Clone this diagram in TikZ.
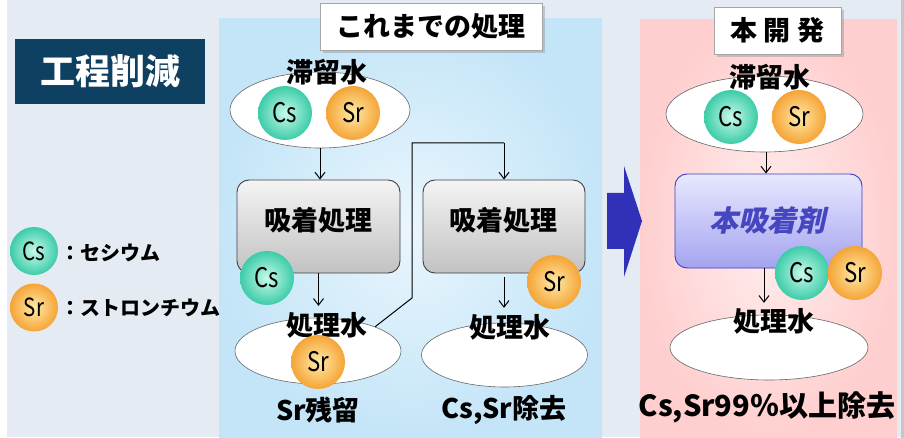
\documentclass[tikz,border=0pt]{standalone}
\usepackage{fontspec}
\setmainfont{Noto Sans CJK JP}
\newfontfamily\jpslant{Noto Sans CJK JP}[FakeSlant=0.22]
\newfontfamily\ionfont{Noto Sans CJK JP}[FakeStretch=0.82]
\usetikzlibrary{arrows.meta,shapes.geometric,shadows}
\definecolor{bg}{HTML}{E4EBF3}
\definecolor{titlebg}{HTML}{0E4062}
\definecolor{bluein}{HTML}{EAF6FD}
\definecolor{blueout}{HTML}{C4E5F8}
\definecolor{pinkin}{HTML}{FFEEEE}
\definecolor{pinkout}{HTML}{FFCFCF}
\definecolor{csin}{HTML}{C8FAEA}
\definecolor{csout}{HTML}{3CCCA8}
\definecolor{srin}{HTML}{FFEAA8}
\definecolor{srout}{HTML}{F5A436}
\definecolor{bigarrow}{HTML}{3030B8}
\definecolor{boxtop}{HTML}{F4F4F4}
\definecolor{boxbot}{HTML}{C2C2C2}
\definecolor{purtop}{HTML}{E8E8FF}
\definecolor{purbot}{HTML}{A4A4F0}
\definecolor{purline}{HTML}{3C3CC8}
\definecolor{purtext}{HTML}{4646C0}
\tikzset{
  lbl/.style={inner sep=0pt, font=\fontsize{27}{29}\selectfont\bfseries},
  leg/.style={inner sep=0pt, anchor=west, font=\fontsize{20}{22}\selectfont\bfseries},
  wellipse/.style={ellipse, draw=gray!80!black, line width=0.6pt, fill=white, inner sep=0pt},
  ion/.style={circle, inner sep=0pt, minimum size=54pt, shading=radial, font=\fontsize{27}{27}\selectfont\ionfont},
  csion/.style={ion, inner color=csin, outer color=csout},
  srion/.style={ion, inner color=srin, outer color=srout},
  graybox/.style={rectangle, rounded corners=12pt, draw=black!75, line width=0.9pt, top color=boxtop, bottom color=boxbot, inner sep=0pt},
  purbox/.style={rectangle, rounded corners=12pt, draw=purline, line width=0.9pt, top color=purtop, bottom color=purbot, inner sep=0pt},
  headbox/.style={rectangle, draw=gray!70, line width=0.8pt, fill=white, inner sep=0pt, drop shadow={opacity=0.35, shadow xshift=3pt, shadow yshift=-3pt}, font=\fontsize{27}{29}\selectfont\bfseries},
  arr/.style={line width=1pt, -{Straight Barb[length=6.5pt,width=10pt]}},
  conn/.style={line width=1pt}
}
\begin{document}
\begin{tikzpicture}[x=1pt,y=-1pt]
\useasboundingbox (0,0) rectangle (904,438);
% background
\fill[white] (0,0) rectangle (904,438);
\fill[bg] (7,0) rectangle (901,437);
\fill[gray!45] (901,0) rectangle (904,438);
% panels
\shade[inner color=bluein, outer color=blueout] (219,19) rectangle (602,437);
\shade[inner color=pinkin, outer color=pinkout] (640,20) rectangle (897,437);
% title
\node[rectangle, fill=titlebg, minimum width=190pt, minimum height=65pt, inner sep=0pt, text=white, font=\fontsize{35}{37}\selectfont\bfseries] (title) at (110,71.5) {工程削減};
% header boxes
\node[headbox, minimum width=222pt, minimum height=47pt] (h1) at (431,26.5) {これまでの処理};
\node[headbox, minimum width=127pt, minimum height=47pt] (h2) at (777.5,30.5) {本 開 発};
% big arrow
\fill[bigarrow] (607,193) -- (624,193) -- (624,166) -- (642,221) -- (624,277) -- (624,249) -- (607,249) -- cycle;
% legend
\node[csion, minimum size=48pt, font=\fontsize{25}{25}\selectfont\ionfont] (lcs) at (34,251) {Cs};
\node[srion, minimum size=48pt, font=\fontsize{25}{25}\selectfont\ionfont] (lsr) at (34,307.5) {Sr};
\node[leg] (lcst) at (60,253) {：セシウム};
\node[leg] (lsrt) at (60,308) {：ストロンチウム};
% ---------- left flow ----------
\node[wellipse, minimum width=180pt, minimum height=76pt] (e1) at (320,110) {};
\node[lbl] (t1) at (327,72) {滞留水};
\node[csion] (c1) at (285,113) {Cs};
\node[srion] (s1) at (353,113) {Sr};
\node[graybox, minimum width=163pt, minimum height=93pt] (b1) at (318.5,226.5) {};
\node[lbl] (bt1) at (318,220) {吸着処理};
\node[csion] (c2) at (267,278) {Cs};
\node[wellipse, minimum width=166pt, minimum height=66pt] (e2) at (318,351) {};
\node[lbl] (w2) at (327,325) {処理水};
\node[srion] (s2) at (318,362) {Sr};
\node[lbl] (r2) at (318,410) {Sr残留};
\draw[arr] (e1.south) -- (e1.south |- b1.north);
\draw[arr] (b1.south) -- ([yshift=6pt]b1.south |- w2.north);
% ---------- middle flow ----------
\node[graybox, minimum width=162pt, minimum height=93pt] (b2) at (504,226.5) {};
\node[lbl] (bt2) at (503,220) {吸着処理};
\node[wellipse, minimum width=166pt, minimum height=64pt] (e3) at (504.5,355) {};
\node[lbl] (w3) at (510,327) {処理水};
\node[lbl] (r3) at (504,410) {Cs,Sr除去};
\coordinate (k1) at (412,298);
\coordinate (k2) at (412,143);
\draw[conn] (e2.23) -- (k1) -- (k2) -- (k2 -| b2.north);
\draw[arr] (k2 -| b2.north) -- (b2.north);
\draw[arr] ([yshift=-4pt]b2.south) -- ([yshift=6pt]b2.south |- w3.north);
\node[srion] (s3) at (554,282) {Sr};
% ---------- right flow ----------
\node[wellipse, minimum width=197pt, minimum height=76pt] (e4) at (764.5,114) {};
\node[lbl] (t4) at (770,77) {滞留水};
\node[csion] (c4) at (731,117) {Cs};
\node[srion] (s4) at (799,117) {Sr};
\node[purbox, minimum width=187pt, minimum height=94pt] (b3) at (768.5,221) {};
\node[inner sep=0pt, text=purtext, font=\fontsize{29}{31}\selectfont\jpslant\bfseries] (bt3) at (767,220) {本吸着剤};
\node[wellipse, minimum width=198pt, minimum height=65pt] (e5) at (769,347.5) {};
\node[lbl] (w5) at (774,321) {処理水};
\node[lbl, font=\fontsize{29}{31}\selectfont\bfseries] (r5) at (767,407) {Cs,Sr99％以上除去};
\draw[arr] ([xshift=1.5pt]e4.south) -- ([xshift=1.5pt]e4.south |- b3.north);
\draw[arr] ([xshift=-4.5pt]b3.south) -- ([xshift=-4.5pt,yshift=5pt]b3.south |- w5.north);
\node[csion] (c5) at (802,273) {Cs};
\node[srion] (s5) at (855,273) {Sr};
\end{tikzpicture}
\end{document}
